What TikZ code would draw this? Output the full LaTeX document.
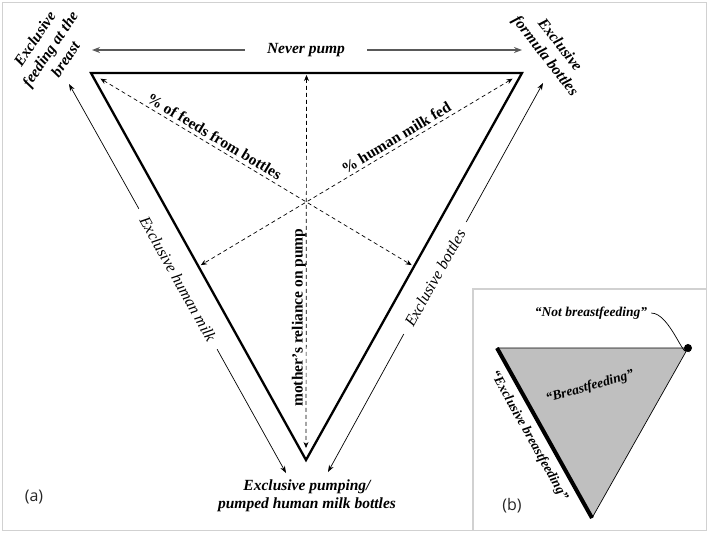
\documentclass[tikz,border=0pt]{standalone}
\usepackage{fontspec}
\setmainfont{Liberation Serif}
\setsansfont{Open Sans}
\usetikzlibrary{arrows.meta,calc}

\tikzset{
  edgearrow/.style={-{Stealth[length=7pt,width=5pt]}, line width=0.7pt},
  toparrow/.style={-{Stealth[length=8pt,width=6pt]}, line width=1.4pt, black!65},
  guide/.style={{Stealth[length=6pt,width=5pt]}-{Stealth[length=6pt,width=5pt]},
    dash pattern=on 4pt off 3pt, line width=0.7pt},
  corner/.style={font=\fontsize{15.5}{18.5}\selectfont\bfseries\itshape, align=center, inner sep=0pt},
  sidelabel/.style={font=\fontsize{16}{19}\selectfont\itshape, inner sep=0pt},
  guidelabel/.style={font=\fontsize{15.5}{19}\selectfont\bfseries, inner sep=0pt},
  smalllabel/.style={font=\fontsize{13.5}{16}\selectfont\bfseries\itshape, inner sep=0pt},
  panel/.style={draw=black!18, line width=1.2pt},
  tag/.style={font=\sffamily\fontsize{16}{18}\selectfont, black!85, inner sep=0pt}
}

\begin{document}
\begin{tikzpicture}[x=1pt,y=-1pt]
\useasboundingbox (0,0) rectangle (709,533);

% frames
\draw[panel] (2.5,2.5) rectangle (706.5,530.5);
\draw[panel] (473,289) rectangle (706.5,530.5);

% panel (a): triangle
\coordinate (TL) at (91,73);
\coordinate (TR) at (522,73);
\coordinate (B) at (306,460);
\coordinate (MT) at ($(TL)!0.5!(TR)$);
\coordinate (ML) at ($(TL)!0.5!(B)$);
\coordinate (MR) at ($(TR)!0.5!(B)$);
\coordinate (C) at ($(B)!2/3!(MT)$);
\draw[line width=2.3pt, line join=miter] (TL) -- (TR) -- (B) -- cycle;

% dashed guides through the centre
\draw[guide, shorten <=11pt, shorten >=2.7pt] (TL) -- (MR);
\draw[guide, shorten <=11pt, shorten >=2.7pt] (TR) -- (ML);
\draw[guide, shorten <=2pt, shorten >=12pt] (MT) -- (B);
\path (TL) -- node[guidelabel, pos=0.56, above=4pt, rotate=-31] (fb) {\% of feeds from bottles} (C);
\path (C) -- node[guidelabel, pos=0.43, above=4pt, rotate=31] (hf) {\% human milk fed} (TR);
\path (MT) -- node[guidelabel, pos=0.64, above=3pt, rotate=90] (rp) {mother's reliance on pump} (B);

% top
\coordinate (npL) at (92,50);
\coordinate (npR) at (522,50);
\node[corner] (np) at (306,50) {Never pump};
\draw[toparrow, shorten <=22pt] (np.west) -- (npL);
\draw[toparrow, shorten <=22pt] (np.east) -- (npR);

% left side
\coordinate (hmA) at (69,84);
\coordinate (hmB) at (286,473);
\node[sidelabel, rotate=-60.9] (xhm) at (178,279) {Exclusive human milk};
\draw[edgearrow, shorten <=10pt] (xhm.west) -- (hmA);
\draw[edgearrow, shorten <=10pt] (xhm.east) -- (hmB);

% right side
\coordinate (ebA) at (543,83);
\coordinate (ebB) at (328,472);
\node[sidelabel, rotate=60.8] (xeb) at (435,278) {Exclusive bottles};
\draw[edgearrow, shorten <=10pt] (xeb.east) -- (ebA);
\draw[edgearrow, shorten <=10pt] (xeb.west) -- (ebB);

% corners
\node[corner, rotate=56] (efb) at (50,49) {Exclusive\\feeding at the\\breast};
\node[corner, rotate=-52] (efo) at (552,51) {Exclusive\\formula bottles};
\node[corner] (epp) at (307,496) {Exclusive pumping/\\pumped human milk bottles};
\node[tag] (taga) at (34,497) {(a)};

% panel (b)
\coordinate (bTL) at (497,348);
\coordinate (bTR) at (688,348);
\coordinate (bB) at (592,518);
\fill[black!25] (bTL) -- (bTR) -- (bB) -- cycle;
\draw[line width=0.7pt] (bTL) -- (bTR) -- (bB);
\draw[line width=4pt] (bTL) -- (bB);
\node[circle, fill, inner sep=0pt, minimum size=8pt] (dot) at (bTR) {};
\node[smalllabel] (nb) at (591,313) {“Not breastfeeding”};
\draw[-{Stealth[length=8pt,width=6pt]}, line width=0.7pt] (nb.east) ++(4,0) to[out=0, in=-100] (dot.north);
\node[smalllabel, rotate=16] (bf) at (590,387) {“Breastfeeding”};
\node[smalllabel, rotate=-60.8] (ebf) at (529,436) {“Exclusive breastfeeding”};
\node[tag] (tagb) at (512,506) {(b)};
\end{tikzpicture}
\end{document}
